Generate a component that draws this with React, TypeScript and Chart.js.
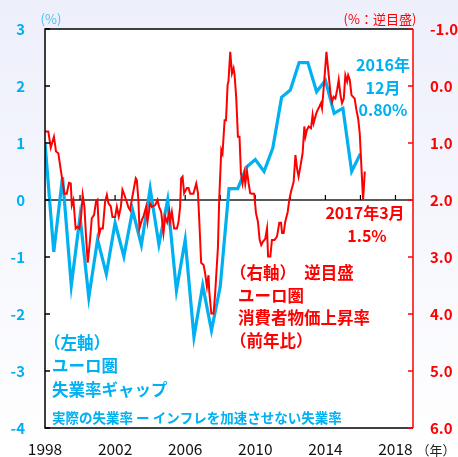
import React, { useEffect, useRef } from "react";
import { Chart, registerables } from "chart.js";

Chart.register(...registerables);

const BLUE = "#00B0F0";
const RED = "#FF0000";
const JP = "'Noto Sans CJK JP', 'Noto Sans', sans-serif";

// x-axis tick labels (years) and small tick marks on the zero line
const xTickYears = [1998, 2002, 2006, 2010, 2014, 2018];
const zeroLineTickYears = [2000, 2002, 2004, 2006, 2008, 2010, 2012, 2014, 2016, 2018];
const leftTicks = [-4, -3, -2, -1, 0, 1, 2, 3];
const rightTicks = [-1, 0, 1, 2, 3, 4, 5, 6];

// Euro area unemployment gap (left axis, %), semiannual
const gapDates = [
  1998.0, 1998.5, 1999.0, 1999.5, 2000.0, 2000.5, 2001.0, 2001.5, 2002.0, 2002.5,
  2003.0, 2003.5, 2004.0, 2004.5, 2005.0, 2005.5, 2006.0, 2006.5, 2007.0, 2007.5,
  2008.0, 2008.5, 2009.0, 2009.5, 2010.0, 2010.5, 2011.0, 2011.5, 2012.0, 2012.5,
  2013.0, 2013.5, 2014.0, 2014.5, 2015.0, 2015.5, 2016.0,
];
const gapValues = [
  1.0, -0.91, 0.4, -1.5, -0.29, -1.71, -0.69, -1.3, -0.4, -0.99,
  -0.18, -0.79, 0.2, -0.78, 0.0, -1.59, -0.7, -2.4, -1.5, -2.29,
  -1.52, 0.2, 0.2, 0.58, 0.71, 0.5, 0.91, 1.8, 1.93, 2.41,
  2.41, 1.9, 2.1, 1.52, 1.61, 0.5, 0.81,
];

// Euro area CPI inflation (right axis, %, inverted), monthly
const cpiDates = [
  1998.00, 1998.19, 1998.33, 1998.51, 1998.63, 1998.76, 1998.90, 1999.05, 1999.10, 1999.24,
  1999.37, 1999.47, 1999.53, 1999.62, 1999.75, 1999.85, 1999.96, 2000.06, 2000.15, 2000.25,
  2000.33, 2000.44, 2000.57, 2000.67, 2000.80, 2000.91, 2000.99, 2001.09, 2001.18, 2001.30,
  2001.43, 2001.53, 2001.62, 2001.75, 2001.85, 2002.00, 2002.10, 2002.21, 2002.33, 2002.42,
  2002.51, 2002.63, 2002.76, 2002.86, 2002.95, 2003.18, 2003.24, 2003.33, 2003.39, 2003.53,
  2003.62, 2003.77, 2003.85, 2004.00, 2004.10, 2004.29, 2004.42, 2004.51, 2004.63, 2004.76,
  2004.86, 2004.97, 2005.09, 2005.14, 2005.24, 2005.37, 2005.53, 2005.62, 2005.71, 2005.77,
  2005.85, 2005.94, 2006.10, 2006.19, 2006.29, 2006.47, 2006.63, 2006.73, 2006.82, 2006.91,
  2007.05, 2007.14, 2007.24, 2007.33, 2007.37, 2007.49, 2007.62, 2007.71, 2007.87, 2007.94,
  2008.06, 2008.13, 2008.25, 2008.33, 2008.42, 2008.47, 2008.57, 2008.67, 2008.76, 2008.82,
  2008.91, 2009.01, 2009.10, 2009.18, 2009.27, 2009.37, 2009.43, 2009.53, 2009.62, 2009.71,
  2009.81, 2009.94, 2010.04, 2010.15, 2010.25, 2010.34, 2010.44, 2010.57, 2010.67, 2010.73,
  2010.86, 2010.95, 2011.10, 2011.24, 2011.37, 2011.47, 2011.53, 2011.62, 2011.71, 2011.85,
  2011.94, 2012.04, 2012.19, 2012.29, 2012.38, 2012.47, 2012.57, 2012.70, 2012.80, 2012.86,
  2012.95, 2013.05, 2013.18, 2013.27, 2013.33, 2013.47, 2013.56, 2013.66, 2013.75, 2013.81,
  2013.94, 2014.06, 2014.19, 2014.29, 2014.38, 2014.47, 2014.57, 2014.67, 2014.76, 2014.86,
  2014.95, 2015.05, 2015.14, 2015.24, 2015.30, 2015.39, 2015.49, 2015.58, 2015.67, 2015.77,
  2015.87, 2015.96, 2016.06, 2016.15, 2016.25,
];
const cpiValues = [
  0.80, 0.80, 1.08, 0.89, 1.15, 1.18, 1.47, 1.77, 1.89, 1.89,
  1.70, 1.71, 2.09, 2.00, 2.50, 2.47, 2.50, 2.29, 1.91, 2.12,
  2.58, 3.10, 2.70, 2.32, 2.26, 2.03, 2.00, 2.61, 2.50, 2.50,
  2.03, 1.91, 2.06, 2.11, 2.30, 2.30, 2.12, 2.29, 2.12, 1.82,
  1.89, 2.00, 2.13, 2.18, 2.00, 1.62, 1.65, 2.00, 2.50, 2.35,
  2.29, 2.12, 2.38, 2.06, 2.12, 2.09, 2.00, 2.12, 2.21, 2.58,
  2.29, 2.39, 2.21, 2.38, 2.21, 2.50, 2.50, 2.38, 2.12, 1.62,
  1.59, 1.88, 1.79, 1.79, 1.89, 1.89, 1.71, 1.88, 2.47, 3.10,
  3.14, 3.29, 3.52, 3.32, 3.59, 3.99, 3.99, 3.64, 2.82, 2.00,
  1.12, 1.18, 0.60, 0.60, -0.02, -0.08, -0.60, -0.22, -0.31, -0.19,
  0.19, 0.89, 0.89, 1.53, 1.71, 1.53, 1.71, 1.50, 1.71, 1.88,
  1.89, 1.89, 2.23, 2.38, 2.70, 2.79, 2.73, 2.68, 2.50, 2.99,
  2.99, 2.70, 2.70, 2.64, 2.40, 2.40, 2.58, 2.58, 2.38, 2.21,
  2.00, 1.85, 1.68, 1.21, 1.44, 1.59, 1.42, 1.18, 0.71, 0.89,
  0.77, 0.71, 0.74, 0.51, 0.65, 0.49, 0.42, 0.36, 0.30, 0.39,
  -0.11, -0.60, -0.19, 0.13, 0.28, 0.19, 0.22, 0.07, -0.11, 0.16,
  0.30, 0.22, -0.19, -0.08, -0.19, -0.11, 0.16, 0.19, 0.22, 0.42,
  0.57, 0.83, 1.44, 2.00, 1.50,
];

type Txt = { t: string; x: number; y: number; c: string; f: string; a: CanvasTextAlign };
const texts: Txt[] = [
  { t: "(%)", x: 51, y: 19, c: "#4DBFEF", f: `400 13px ${JP}`, a: "center" },
  { t: "(%：逆目盛)", x: 380, y: 19, c: RED, f: `400 13px ${JP}`, a: "center" },
  { t: "2016年", x: 383, y: 65, c: BLUE, f: `700 16px ${JP}`, a: "center" },
  { t: "12月", x: 383, y: 88, c: BLUE, f: `700 16px ${JP}`, a: "center" },
  { t: "0.80%", x: 383, y: 110, c: BLUE, f: `700 16px ${JP}`, a: "center" },
  { t: "2017年3月", x: 365, y: 213, c: RED, f: `700 16px ${JP}`, a: "center" },
  { t: "1.5%", x: 367, y: 236, c: RED, f: `700 16px ${JP}`, a: "center" },
  { t: "（右軸）　逆目盛", x: 230, y: 273, c: RED, f: `700 16.5px ${JP}`, a: "left" },
  { t: "ユーロ圏", x: 238, y: 296, c: RED, f: `700 16.5px ${JP}`, a: "left" },
  { t: "消費者物価上昇率", x: 238, y: 318, c: RED, f: `700 16.5px ${JP}`, a: "left" },
  { t: "（前年比）", x: 230, y: 341, c: RED, f: `700 16.5px ${JP}`, a: "left" },
  { t: "（左軸）", x: 44, y: 343, c: BLUE, f: `700 16.5px ${JP}`, a: "left" },
  { t: "ユーロ圏", x: 52, y: 366, c: BLUE, f: `700 16.5px ${JP}`, a: "left" },
  { t: "失業率ギャップ", x: 52, y: 390, c: BLUE, f: `700 16.5px ${JP}`, a: "left" },
  { t: "実際の失業率 ー インフレを加速させない失業率", x: 52, y: 418, c: BLUE, f: `700 13.5px ${JP}`, a: "left" },
  { t: "（年）", x: 436, y: 450, c: "#222", f: `400 13px ${JP}`, a: "center" },
];

const decor = {
  id: "decor",
  beforeDraw(chart: any) {
    const { ctx, width, height, chartArea: a } = chart;
    ctx.save();
    const g = ctx.createLinearGradient(0, 0, 0, height);
    g.addColorStop(0, "#EDEFFB");
    g.addColorStop(1, "#FFFFFF");
    ctx.fillStyle = g;
    ctx.fillRect(0, 0, width, height);
    ctx.fillStyle = "#FFFFFF";
    ctx.fillRect(a.left, a.top, a.right - a.left, a.bottom - a.top);
    ctx.restore();
  },
  beforeDatasetsDraw(chart: any) {
    const { ctx, chartArea: a, scales } = chart;
    const y0 = scales.yL.getPixelForValue(0);
    ctx.save();
    ctx.strokeStyle = "#5A5A5A";
    ctx.lineWidth = 2;
    ctx.beginPath();
    ctx.moveTo(a.left, y0);
    ctx.lineTo(a.right, y0);
    ctx.stroke();
    ctx.strokeStyle = "#000";
    ctx.lineWidth = 1.2;
    zeroLineTickYears.forEach((yr) => {
      const x = scales.x.getPixelForValue(yr);
      ctx.beginPath();
      ctx.moveTo(x, y0);
      ctx.lineTo(x, y0 - 5);
      ctx.stroke();
    });
    ctx.restore();
  },
  afterDatasetsDraw(chart: any) {
    const { ctx, chartArea: a, scales } = chart;
    ctx.save();
    ctx.lineWidth = 1.5;
    ctx.strokeStyle = "#000";
    ctx.beginPath();
    ctx.moveTo(a.right, a.top);
    ctx.lineTo(a.left, a.top);
    ctx.lineTo(a.left, a.bottom);
    ctx.lineTo(a.right, a.bottom);
    ctx.stroke();
    leftTicks.forEach((v) => {
      const y = scales.yL.getPixelForValue(v);
      ctx.beginPath();
      ctx.moveTo(a.left, y);
      ctx.lineTo(a.left + 5, y);
      ctx.stroke();
    });
    ctx.strokeStyle = RED;
    ctx.beginPath();
    ctx.moveTo(a.right, a.top);
    ctx.lineTo(a.right, a.bottom);
    ctx.stroke();
    rightTicks.forEach((v) => {
      const y = scales.yR.getPixelForValue(v);
      ctx.beginPath();
      ctx.moveTo(a.right, y);
      ctx.lineTo(a.right - 5, y);
      ctx.stroke();
    });
    ctx.restore();
  },
  afterDraw(chart: any) {
    const { ctx } = chart;
    ctx.save();
    ctx.textBaseline = "middle";
    texts.forEach((t) => {
      ctx.font = t.f;
      ctx.fillStyle = t.c;
      ctx.textAlign = t.a;
      ctx.fillText(t.t, t.x, t.y);
    });
    ctx.restore();
  },
};

export default function App() {
  const ref = useRef<HTMLCanvasElement>(null);
  useEffect(() => {
    if (!ref.current) return;
    const chart = new Chart(ref.current, {
      type: "line",
      data: {
        datasets: [
          {
            label: "消費者物価上昇率",
            data: cpiDates.map((d, i) => ({ x: d, y: cpiValues[i] })),
            yAxisID: "yR",
            borderColor: RED,
            borderWidth: 2,
            pointRadius: 0,
            tension: 0,
          },
          {
            label: "失業率ギャップ",
            data: gapDates.map((d, i) => ({ x: d, y: gapValues[i] })),
            yAxisID: "yL",
            borderColor: BLUE,
            borderWidth: 3.2,
            pointRadius: 0,
            tension: 0,
          },
        ],
      },
      options: {
        responsive: false,
        animation: false,
        devicePixelRatio: 1,
        layout: { padding: { top: 29, left: 0, right: 0, bottom: 0 } },
        plugins: { legend: { display: false }, tooltip: { enabled: false } },
        scales: {
          x: {
            type: "linear",
            position: "bottom",
            min: 1998,
            max: 2019,
            afterBuildTicks: (s: any) => {
              s.ticks = xTickYears.map((v) => ({ value: v }));
            },
            afterFit: (s: any) => {
              s.height = 29;
            },
            grid: { display: false, drawTicks: false },
            border: { display: false },
            ticks: {
              color: "#111",
              font: { family: JP, size: 15.5, weight: "400" },
              padding: 12,
              maxRotation: 0,
              autoSkip: false,
              callback: (v: any) => String(v),
            },
          },
          yL: {
            type: "linear",
            position: "left",
            min: -4,
            max: 3,
            afterBuildTicks: (s: any) => {
              s.ticks = leftTicks.map((v) => ({ value: v }));
            },
            afterFit: (s: any) => {
              s.width = 45;
            },
            grid: { display: false, drawTicks: false },
            border: { display: false },
            ticks: {
              color: BLUE,
              font: { family: JP, size: 15, weight: "700" },
              padding: 20,
              callback: (v: any) => String(v),
            },
          },
          yR: {
            type: "linear",
            position: "right",
            min: -1,
            max: 6,
            reverse: true,
            afterBuildTicks: (s: any) => {
              s.ticks = rightTicks.map((v) => ({ value: v }));
            },
            afterFit: (s: any) => {
              s.width = 45;
            },
            grid: { display: false, drawTicks: false },
            border: { display: false },
            ticks: {
              color: RED,
              font: { family: JP, size: 15, weight: "700" },
              padding: 17,
              callback: (v: any) => Number(v).toFixed(1),
            },
          },
        },
      },
      plugins: [decor],
    });
    return () => chart.destroy();
  }, []);
  return (
    <div style={{ position: "absolute", left: 0, top: 0, width: 458, height: 457 }}>
      <canvas ref={ref} width={458} height={457} style={{ display: "block" }} />
    </div>
  );
}
